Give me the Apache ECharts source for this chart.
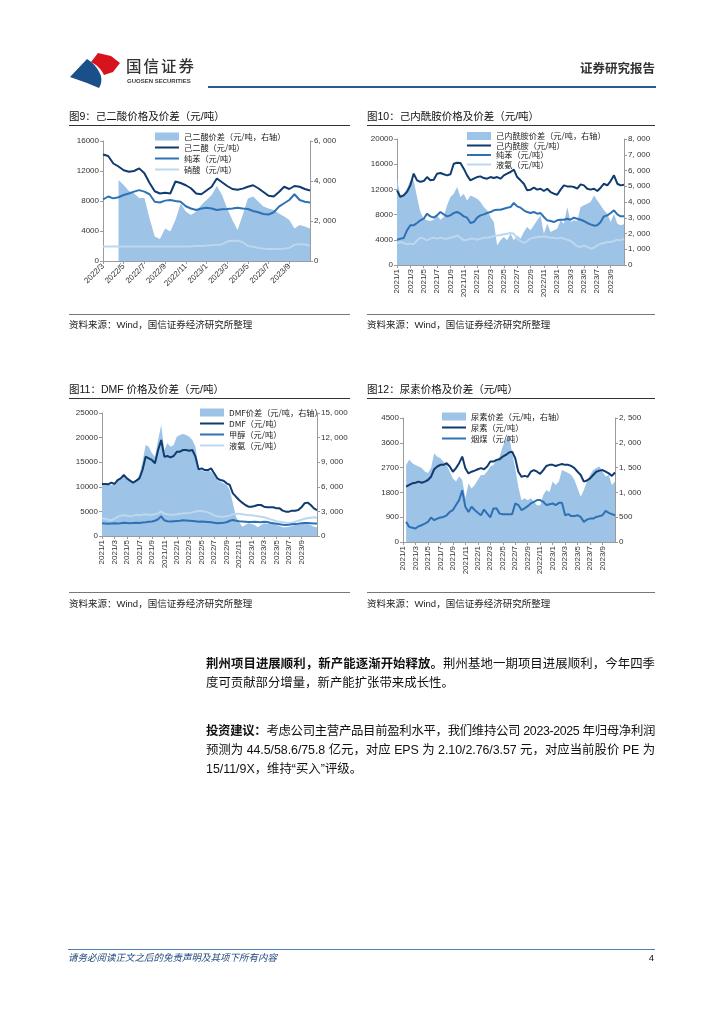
<!DOCTYPE html>
<html><head><meta charset="utf-8">
<script src="https://cdn.jsdelivr.net/npm/echarts/dist/echarts.min.js"></script>
<style>
body{margin:0;background:#fff;}
#page{position:relative;width:724px;height:1024px;overflow:hidden;font-family:"Liberation Sans","Noto Sans CJK SC",sans-serif;color:#111;}
.ch{position:absolute;left:0;top:0;width:724px;height:1024px;}
.t{position:absolute;white-space:nowrap;}
.ln{position:absolute;height:0;}
.title{font-size:10.5px;line-height:13px;color:#111;}
.src{font-size:9.5px;line-height:12px;color:#222;}
.p{position:absolute;left:206px;width:449px;font-size:12.4px;line-height:20px;white-space:nowrap;color:#111;}
.j{text-align:justify;text-align-last:justify;}
</style></head>
<body><div id="page">
<div id="c1" class="ch"></div><div id="c2" class="ch"></div><div id="c3" class="ch"></div><div id="c4" class="ch"></div>

<svg style="position:absolute;left:0;top:0" width="724" height="100">
  <path d="M91,62 L98,53 L111,56 L120,63 L113,72 L104,75 C101,69 97,65 91,62 Z" fill="#D7141E"/>
  <path d="M70,77 L87,59 C94,63 99,70 101,76 C102,81 101,85 99,88 L87,83 Z" fill="#1B4F8A"/>
</svg>
<div class="t" style="left:126px;top:56px;font-size:15.5px;line-height:18px;letter-spacing:2px;color:#333;font-family:'Noto Sans CJK SC';font-weight:500;">国信证券</div>
<div class="t" style="left:127px;top:77px;font-size:6px;line-height:8px;font-weight:bold;color:#3a3a3a;">GUOSEN SECURITIES</div>
<div class="t" style="right:69px;top:60px;font-size:12.5px;line-height:16px;font-weight:bold;color:#333;font-family:'Noto Sans CJK SC';">证券研究报告</div>
<div class="ln" style="left:208px;width:448px;top:86px;border-top:2.5px solid #2B5B8C;"></div>

<div class="t title" style="left:69px;top:110px;">图9：己二酸价格及价差（元/吨）</div>
<div class="ln" style="left:69px;width:281px;top:125px;border-top:1px solid #333;"></div>
<div class="ln" style="left:69px;width:281px;top:314px;border-top:1.5px solid #777;"></div>
<div class="t src" style="left:69px;top:319px;">资料来源：Wind，国信证券经济研究所整理</div>

<div class="t title" style="left:367px;top:110px;">图10：己内酰胺价格及价差（元/吨）</div>
<div class="ln" style="left:367px;width:288px;top:125px;border-top:1px solid #333;"></div>
<div class="ln" style="left:367px;width:288px;top:314px;border-top:1.5px solid #777;"></div>
<div class="t src" style="left:367px;top:319px;">资料来源：Wind，国信证券经济研究所整理</div>

<div class="t title" style="left:69px;top:383px;">图11：DMF 价格及价差（元/吨）</div>
<div class="ln" style="left:69px;width:281px;top:398px;border-top:1px solid #333;"></div>
<div class="ln" style="left:69px;width:281px;top:592px;border-top:1.5px solid #777;"></div>
<div class="t src" style="left:69px;top:598px;">资料来源：Wind，国信证券经济研究所整理</div>

<div class="t title" style="left:367px;top:383px;">图12：尿素价格及价差（元/吨）</div>
<div class="ln" style="left:367px;width:288px;top:398px;border-top:1px solid #333;"></div>
<div class="ln" style="left:367px;width:288px;top:592px;border-top:1.5px solid #777;"></div>
<div class="t src" style="left:367px;top:598px;">资料来源：Wind，国信证券经济研究所整理</div>

<div class="p j" style="top:654px;"><b>荆州项目进展顺利，新产能逐渐开始释放。</b>荆州基地一期项目进展顺利，今年四季</div>
<div class="p" style="top:673px;">度可贡献部分增量，新产能扩张带来成长性。</div>
<div class="p j" style="top:721px;"><b>投资建议：</b>考虑公司主营产品目前盈利水平，我们维持公司 2023-2025 年归母净利润</div>
<div class="p j" style="top:740px;">预测为 44.5/58.6/75.8 亿元，对应 EPS 为 2.10/2.76/3.57 元，对应当前股价 PE 为</div>
<div class="p" style="top:759px;">15/11/9X，维持“买入”评级。</div>

<div class="ln" style="left:68px;width:587px;top:949px;border-top:1px solid #4F7FB5;"></div>
<div class="t" style="left:68px;top:952px;font-size:9.5px;line-height:12px;font-style:italic;color:#1F497D;">请务必阅读正文之后的免责声明及其项下所有内容</div>
<div class="t" style="right:70px;top:952px;font-size:9.5px;line-height:12px;color:#111;">4</div>
</div>
<script>
// fit justified lines into their box
document.querySelectorAll('.p.j').forEach(el => {
  let ls = 0;
  while (el.scrollWidth > 449 && ls > -1.5) { ls -= 0.05; el.style.letterSpacing = ls + 'px'; }
});

// ---------- data ----------
function halfMonths(y, m, n) {
  const out = [];
  for (let k = 0; k < n; k++) {
    const mm = m - 1 + Math.floor(k / 2);
    out.push((y + Math.floor(mm / 12)) + '/' + (mm % 12 + 1) + '/' + (k % 2 ? 16 : 1));
  }
  return out;
}
// Chart 9: adipic acid (2022/3 - 2023/10, half-monthly)
const dates9 = halfMonths(2022, 3, 41);
const adipic = [14200,14000,13000,12600,12100,11900,12000,12350,11700,10400,9300,9000,9100,9000,10600,10400,10100,9700,9000,8900,9400,9900,11000,10500,10000,9600,9500,9650,9900,10100,9700,9200,8700,8600,9200,9900,9600,10000,9900,9600,9400];
const benzene9 = [8200,8600,8350,8500,8800,9000,9250,9450,9250,8900,7900,7800,8050,8130,8000,7900,7300,7000,6800,7000,7100,7000,6800,6900,6930,7000,7100,7000,6930,6670,6500,6270,6200,6500,7250,7700,8130,8900,8130,7900,7800];
const nitric = [1950,1950,1950,1950,1950,1950,1950,1950,1950,1950,1950,1950,1950,1950,1950,1950,1950,1950,2000,2000,2050,2100,2150,2200,2600,2700,2700,2500,2000,1900,1750,1650,1600,1600,1600,1650,1750,2150,2250,2200,2050];
const spread9 = [null,null,null,4050,3800,3500,3380,3150,3150,2130,1220,1100,1630,1470,2050,2880,2470,2300,2470,2800,3050,3300,3750,3300,2630,2050,1550,2300,3130,3220,2970,2720,2630,2550,2380,2220,2050,1630,1800,1720,1630];

// Chart 10: caprolactam (2021/1 - 2023/10)
const dates10 = halfMonths(2021, 1, 69);
const caprolactam = [11850,10800,11050,11600,12650,14500,13440,13200,13330,13960,13440,13540,14500,14600,14400,14230,14400,16080,16240,16190,15290,14230,13440,13700,13960,14070,13800,13700,13960,13800,13960,13700,14230,14500,14760,15130,13960,13440,12900,11850,11960,12270,11960,12110,11740,12110,11580,11320,11160,11960,12640,12480,12480,12380,12110,12800,12640,12110,11960,12110,11740,12270,12900,12640,13330,14230,12900,12640,12750];
const benzene10 = [4020,4180,4280,5500,6300,6300,6670,7090,7350,8150,7720,7510,7880,8410,8040,7720,7880,8250,8410,8150,7720,7510,6670,6820,7510,7880,8040,8250,8410,8680,8780,8780,8940,9100,9200,9840,9310,9100,8680,8410,8250,8410,8150,8250,7620,7090,6980,6820,7090,7190,7190,7350,7190,7510,7350,7190,6980,6670,6450,6240,6300,6820,7720,7880,8250,8680,8040,7720,7720];
const ammonia10 = [3390,3650,3490,3280,3390,3280,3910,4340,4180,3910,4180,4340,4180,4340,4180,4180,4340,4440,4710,4340,3910,4020,4180,4180,4020,4180,4340,4340,4440,4550,4660,4760,4870,4970,5080,4970,4180,3810,3490,3810,4180,4340,4440,4440,4550,4440,4340,4340,4180,4340,4180,4020,3810,3390,2960,2860,3120,2860,2590,2750,3120,3390,3490,3650,3650,3810,4020,3910,4180];
const spread10 = [5480,4420,4530,4850,5370,5370,4320,3360,2940,2840,2790,2880,3150,2880,3050,3790,4320,4530,4950,4320,4530,4100,4420,4320,4210,4000,3680,3470,3050,2730,1250,1570,1780,1570,1990,1570,1880,1670,2090,2410,2200,2520,2840,3150,1990,2620,2090,2200,2310,2840,2620,3680,2730,2840,2790,3680,3790,3890,4000,4420,4100,3790,3470,3260,2730,3260,2620,2520,2580];

// Chart 11: DMF (2021/1 - 2023/11)
const dates11 = halfMonths(2021, 1, 70);
const dmf = [10570,10570,10500,10840,10570,11380,11720,12400,11720,11250,10840,11250,11720,13410,16120,15790,15450,14770,17480,19510,16120,16260,15990,16260,17100,17140,17480,17480,17340,17480,16120,13550,13750,13410,13410,13750,12740,11720,11380,11250,10700,10370,8670,7990,7320,6780,6300,5960,5960,6100,6300,6300,5960,5830,5830,5830,5620,5620,5150,4950,4950,5150,5150,5280,5830,6640,6780,6300,5620,5280];
const methanol = [2600,2550,2500,2550,2600,2550,2600,2700,2650,2600,2650,2700,2650,2750,2800,2900,2950,3100,3400,4000,3200,3000,2950,3000,3050,3100,3200,3150,3100,3050,3000,2900,2950,2900,2850,2800,2700,2600,2650,2700,2800,3100,3250,3100,3000,2950,2900,2850,2850,2900,2850,2800,2900,2850,2700,2600,2500,2400,2300,2250,2300,2400,2450,2500,2600,2650,2650,2600,2550,2550];
const ammonia11 = [3600,3500,3300,3200,3500,3900,4100,4200,4100,4000,4100,4300,4200,4300,4400,4300,4300,4400,4600,5000,4500,4400,4300,4300,4400,4500,4600,4600,4700,4800,5000,5100,5100,5000,4800,4500,4200,4000,3900,3900,4000,4200,4400,4500,4500,4400,4300,4200,4200,4100,4000,3900,3800,3600,3400,3200,3000,2900,2800,2700,2600,2700,2900,3100,3300,3500,3600,3700,3800,3700];
const spread11 = [6420,6220,6220,6220,6220,6750,7030,7440,7030,6750,6500,6750,7440,9060,11100,10890,10080,9670,11700,13540,10490,11300,10890,11100,12110,12320,12440,12320,12110,11700,10890,8250,8050,7850,8050,7850,7440,6830,6630,6420,6220,5610,3980,2360,1750,1140,1340,1540,1460,1340,1060,1340,1540,1460,1630,1540,1340,1220,1060,1060,1140,1220,1340,1340,1460,1630,1460,1340,1140,1060];

// Chart 12: urea (2021/1 - 2023/10)
const dates12 = halfMonths(2021, 1, 69);
const urea = [null,2006,2070,2130,2150,2190,2150,2190,2250,2370,2640,2740,2800,2800,2860,2740,2550,2680,2860,3100,2680,2490,2550,2590,2640,2680,2640,2740,2920,2920,2980,3000,3100,3160,3250,3280,3040,2550,2370,2400,2370,2550,2610,2550,2470,2610,2760,2800,2800,2760,2800,2830,2800,2800,2760,2680,2550,2430,2190,2230,2310,2430,2550,2590,2610,2550,2490,2400,2520];
const coal = [null,730,550,520,490,570,610,670,730,890,790,850,890,910,970,1090,1160,1340,1520,1880,1280,1090,1280,1160,1060,970,1180,1030,890,1220,1220,1030,1010,1010,1010,1010,1400,1340,1160,1220,1300,1400,1460,1520,1520,1460,1340,1370,1400,1340,1420,1420,970,1010,940,940,970,910,730,810,850,850,910,940,970,1130,1060,1010,970];
const spread12 = [null,1550,1660,1590,1550,1520,1490,1420,1390,1490,1790,1720,1690,1620,1550,1420,1280,1220,1320,1250,880,1180,1080,1150,1250,1350,1350,1420,1520,1550,1660,1720,1930,2060,2160,1790,1490,1110,840,880,840,880,810,740,740,950,1050,1010,1220,1150,1220,1450,1420,1390,1350,1250,1080,910,1050,1220,1350,1450,1490,1520,1420,1320,1350,1150,1220];

// ---------- styles ----------
const AREA = '#9DC3E6', NAVY = '#0F3B6F', MID = '#2E72B5', LIGHT = '#BDD7EE', AX = '#9b9b9b';
const isLbl = (i, v) => {
  const p = String(v).split('/');
  if (p[0] === '2023' && +p[1] >= 11) return false;
  return p[2] === '1' && (+p[1]) % 2 === 1;
};
const comma = v => v >= 1000 ? Math.floor(v / 1000) + ', ' + String(v % 1000).padStart(3, '0') : String(v);
const HIDE = {color: 'rgba(0,0,0,0)', borderColor: 'rgba(0,0,0,0)', borderWidth: 0, opacity: 0};

function build(id, cfg) {
  const c = echarts.init(document.getElementById(id), null, {renderer: 'canvas'});
  const yBase = (pos, max, step, fmt) => ({
    type: 'value', position: pos, min: 0, max: max, interval: step,
    axisLine: {show: true, lineStyle: {color: AX, width: 1}},
    axisTick: {show: true, length: 3, lineStyle: {color: AX}},
    splitLine: {show: false},
    axisLabel: {fontSize: 8, color: '#333', margin: 4, fontFamily: 'Liberation Sans', formatter: fmt}
  });
  const line = (name, data, color) => ({
    name: name, type: 'line', data: data, yAxisIndex: 0, symbol: 'none', showSymbol: false,
    color: color, lineStyle: {color: color, width: 2}, connectNulls: false
  });
  const series = [{
    name: cfg.names[0], type: 'line', data: cfg.spread, yAxisIndex: 1, symbol: 'none', showSymbol: false,
    color: AREA, lineStyle: {width: 0, color: AREA}, areaStyle: {color: AREA, opacity: 1}, z: 1
  }];
  for (let k = cfg.lines.length - 1; k >= 0; k--) {
    series.push(line(cfg.names[k + 1], cfg.lines[k], [NAVY, MID, LIGHT][k]));
  }
  c.setOption({
    animation: false,
    grid: {left: cfg.grid[0], top: cfg.grid[1], width: cfg.grid[2], height: cfg.grid[3]},
    legend: {
      orient: 'vertical', left: cfg.leg[0], top: cfg.leg[1], padding: 0,
      itemWidth: 24, itemHeight: 8, itemGap: cfg.leg[2],
      textStyle: {fontSize: 8.2, lineHeight: 9, color: '#222', fontFamily: 'Noto Sans CJK SC'},
      data: cfg.names.map((n, k) => k === 0 ? {name: n, icon: 'rect', itemStyle: {color: AREA}} : {name: n, itemStyle: HIDE})
    },
    xAxis: {
      type: 'category', data: cfg.dates, boundaryGap: false,
      axisLine: {lineStyle: {color: AX, width: 1}},
      axisTick: {show: true, interval: isLbl, length: 3, lineStyle: {color: AX}},
      axisLabel: {interval: isLbl, rotate: cfg.rot, fontSize: 8, color: '#333', margin: 4, fontFamily: 'Liberation Sans',
        formatter: v => v.split('/').slice(0, 2).join('/')}
    },
    yAxis: [yBase('left', cfg.ly[0], cfg.ly[1], v => String(v)), yBase('right', cfg.ry[0], cfg.ry[1], comma)],
    series: series
  });
}

build('c1', {dates: dates9, grid: [103, 141, 207, 120], rot: 45, ly: [16000, 4000], ry: [6000, 2000],
  leg: [154, 132, 2],
  names: ['己二酸价差（元/吨，右轴）', '己二酸（元/吨）', '纯苯（元/吨）', '硝酸（元/吨）'],
  spread: spread9, lines: [adipic, benzene9, nitric]});
build('c2', {dates: dates10, grid: [397, 139, 227, 126], rot: 90, ly: [20000, 4000], ry: [8000, 1000],
  leg: [466, 131.5, 0.5],
  names: ['己内酰胺价差（元/吨，右轴）', '己内酰胺（元/吨）', '纯苯（元/吨）', '液氨（元/吨）'],
  spread: spread10, lines: [caprolactam, benzene10, ammonia10]});
build('c3', {dates: dates11, grid: [102, 413, 215, 123], rot: 90, ly: [25000, 5000], ry: [15000, 3000],
  leg: [199, 408, 2],
  names: ['DMF价差（元/吨，右轴）', 'DMF（元/吨）', '甲醇（元/吨）', '液氨（元/吨）'],
  spread: spread11, lines: [dmf, methanol, ammonia11]});
build('c4', {dates: dates12, grid: [403, 418, 212, 124], rot: 90, ly: [4500, 900], ry: [2500, 500],
  leg: [441, 412, 2],
  names: ['尿素价差（元/吨，右轴）', '尿素（元/吨）', '烟煤（元/吨）'],
  spread: spread12, lines: [urea, coal]});
</script>
</body></html>
